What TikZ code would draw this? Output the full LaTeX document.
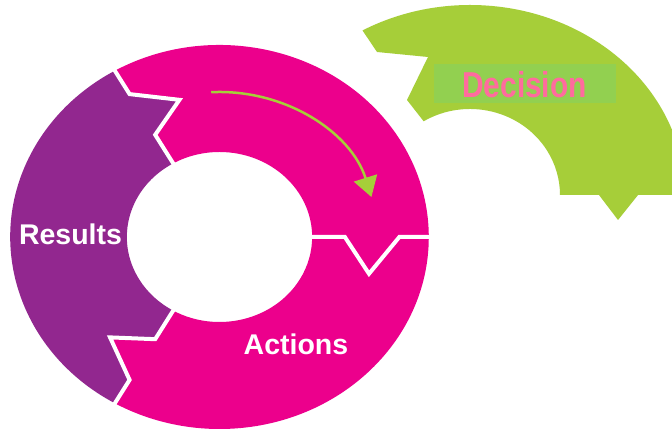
\documentclass[tikz,border=0pt]{standalone}
\usepackage{fontspec}
\setmainfont{Liberation Sans}
\usetikzlibrary{arrows.meta}
\definecolor{ringpink}{HTML}{EC008C}
\definecolor{ringpurple}{HTML}{92278F}
\definecolor{leafgreen}{HTML}{A6CE39}
\definecolor{boxgreen}{HTML}{92D050}
\definecolor{decpink}{HTML}{FF6B9E}
\begin{document}
\begin{tikzpicture}[x=1pt,y=1pt,
  cutline/.style={white, line width=4pt, line join=miter, miter limit=10},
  ringlabel/.style={text=white, font=\fontsize{28.5}{28.5}\selectfont\bfseries, inner sep=0pt, anchor=base},
  ]
\clip (0,0) rectangle (672,430);
\fill[white] (0,0) rectangle (672,430);

% detached green "Decision" piece
\begin{scope}[shift={(470,235)}]
  \fill[leafgreen] (120:215 and 190) -- (-93,143) -- (-42,138) -- (-63,95)
    -- (121:90 and 86) arc[start angle=121,end angle=0,x radius=90,y radius=86]
    -- (129,0) -- (148,-25) -- (168,0) -- (215,0)
    arc[start angle=0,end angle=120,x radius=215,y radius=190] -- cycle;
\end{scope}
\node[fill=boxgreen, minimum width=182pt, minimum height=39pt, inner sep=0pt] (decbox) at (525,346.5) {};
\node[text=decpink, font=\fontsize{36}{36}\selectfont\bfseries, xscale=0.83, anchor=base, inner sep=0pt] (decision) at (524.5,332) {Decision};

% main ring
\begin{scope}[shift={(219.5,193)}, xscale=1.09]
  \fill[ringpurple] (240:192) arc[start angle=240,end angle=120,radius=192]
    -- (120:165) -- (105:142) -- (120:118) -- (120:85)
    arc[start angle=120,end angle=240,radius=85]
    -- (240:118) -- (225:142) -- (240:165) -- cycle;
  \fill[ringpink] (120:192) arc[start angle=120,end angle=0,radius=192]
    -- (0:165) -- (-15:142) -- (0:115) -- (0:85)
    arc[start angle=0,end angle=120,radius=85]
    -- (120:118) -- (105:142) -- (120:165) -- cycle;
  \fill[ringpink] (360:192) arc[start angle=360,end angle=240,radius=192]
    -- (240:165) -- (225:142) -- (240:118) -- (240:85)
    arc[start angle=240,end angle=360,radius=85]
    -- (0:115) -- (-15:142) -- (0:165) -- cycle;
  \draw[cutline] (120:196) -- (120:165) -- (105:142) -- (120:118) -- (120:81);
  \draw[cutline] (0:196) -- (0:165) -- (-15:142) -- (0:115) -- (0:81);
  \draw[cutline] (240:196) -- (240:165) -- (225:142) -- (240:118) -- (240:81);
  \coordinate (arrowstart) at (93:145);
  \draw[leafgreen, line width=2.5pt, -{Triangle[length=20pt,width=24pt]}]
    (arrowstart) arc[start angle=93,end angle=16,radius=145];
\end{scope}

\node[ringlabel] (results) at (70.5,185) {Results};
\node[ringlabel] (actions) at (296,75) {Actions};
\end{tikzpicture}
\end{document}
